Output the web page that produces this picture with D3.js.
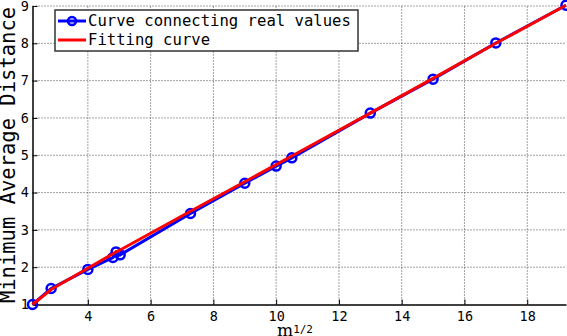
<!DOCTYPE html>
<html>
<head>
<meta charset="utf-8">
<script src="https://cdn.jsdelivr.net/npm/d3@7"></script>
<style>
  body { margin: 0; background: #fff; }
  svg { display: block; font-family: "DejaVu Sans Mono", monospace; }
</style>
</head>
<body>
<div id="chart"></div>
<script>
// data
const xs = [2.236, 2.83, 4.0, 4.8, 4.9, 5.03, 7.27, 9.0, 10.0, 10.5, 13.0, 15.0, 17.0, 19.235];
const realVals = [1.0, 1.43, 1.94, 2.26, 2.41, 2.33, 3.44, 4.25, 4.71, 4.93, 6.13, 7.04, 8.01, 9.02];
const fitVals = [1.0, 1.40, 1.97, 2.36, 2.41, 2.46, 3.50, 4.29, 4.75, 4.98, 6.13, 7.06, 8.00, 9.02];
const xTicks = [4, 6, 8, 10, 12, 14, 16, 18];
const yTicks = [1, 2, 3, 4, 5, 6, 7, 8, 9];
const legendLabels = ["Curve connecting real values", "Fitting curve"];

const width = 567, height = 336,
  margin = {top: 6, right: 1, bottom: 31.5, left: 32.5};

const svg = d3.select("#chart")
  .append("svg")
  .attr("width", width)
  .attr("height", height);

const x = d3.scaleLinear([Math.sqrt(5), Math.sqrt(370)], [margin.left, width - margin.right]);
const y = d3.scaleLinear([1, 9], [height - margin.bottom, margin.top]);

// grid
svg.append("g")
  .selectAll("line")
  .data(xTicks)
  .join("line")
  .attr("x1", d => x(d)).attr("x2", d => x(d))
  .attr("y1", y(1)).attr("y2", y(9))
  .attr("stroke", "#444")
  .attr("stroke-dasharray", "1,2");

svg.append("g")
  .selectAll("line")
  .data(yTicks.slice(1))
  .join("line")
  .attr("x1", x.range()[0]).attr("x2", x.range()[1])
  .attr("y1", d => y(d)).attr("y2", d => y(d))
  .attr("stroke", "#444")
  .attr("stroke-dasharray", "1,2");

// axes (ticks pointing inward like matlab)
const xAxis = svg.append("g")
  .attr("transform", `translate(0,${y(1)})`)
  .call(d3.axisBottom(x).tickValues(xTicks).tickSizeInner(-5).tickSizeOuter(0).tickPadding(7));

const yAxis = svg.append("g")
  .attr("transform", `translate(${x.range()[0]},0)`)
  .call(d3.axisLeft(y).tickValues(yTicks).tickSizeInner(-5).tickSizeOuter(0).tickPadding(3.5));

[xAxis, yAxis].forEach(g => {
  g.select(".domain").attr("stroke", "#000").attr("stroke-width", 1.5);
  g.selectAll(".tick line").attr("stroke", "#000");
  g.selectAll("text")
    .attr("font-family", "DejaVu Sans Mono, monospace")
    .attr("font-size", 13.5)
    .attr("fill", "#000");
});

// lines
const line = d3.line().x((d, i) => x(xs[i])).y(d => y(d));

svg.append("path")
  .datum(realVals)
  .attr("fill", "none")
  .attr("stroke", "#0000ff")
  .attr("stroke-width", 3)
  .attr("d", line);

svg.append("g")
  .selectAll("circle")
  .data(realVals)
  .join("circle")
  .attr("cx", (d, i) => x(xs[i]))
  .attr("cy", d => y(d))
  .attr("r", 4.5)
  .attr("fill", "none")
  .attr("stroke", "#0000ff")
  .attr("stroke-width", 2.5);

svg.append("path")
  .datum(fitVals)
  .attr("fill", "none")
  .attr("stroke", "#ff0000")
  .attr("stroke-width", 3)
  .attr("d", line);

// legend
const lg = svg.append("g").attr("transform", "translate(55,10)");
lg.append("rect")
  .attr("width", 303).attr("height", 41)
  .attr("fill", "#fff")
  .attr("stroke", "#333").attr("stroke-width", 1.5);

lg.append("line")
  .attr("x1", 3).attr("x2", 31).attr("y1", 11).attr("y2", 11)
  .attr("stroke", "#0000ff").attr("stroke-width", 3);
lg.append("circle")
  .attr("cx", 17).attr("cy", 11).attr("r", 4)
  .attr("fill", "none").attr("stroke", "#0000ff").attr("stroke-width", 2.5);
lg.append("line")
  .attr("x1", 3).attr("x2", 31).attr("y1", 30).attr("y2", 30)
  .attr("stroke", "#ff0000").attr("stroke-width", 3);

lg.selectAll(".leg-text")
  .data(legendLabels)
  .join("text")
  .attr("class", "leg-text")
  .attr("x", 33)
  .attr("y", (d, i) => 16 + i * 19)
  .attr("font-size", 15.6)
  .text(d => d);

// axis labels
svg.append("text")
  .attr("transform", `translate(15,155) rotate(-90)`)
  .attr("text-anchor", "middle")
  .attr("font-size", 20.5)
  .text("Minimum Average Distance");

const xl = svg.append("text")
  .attr("x", 277)
  .attr("y", 335.5)
  .attr("font-family", "DejaVu Serif, serif")
  .attr("font-size", 17);
xl.append("tspan").text("m");
xl.append("tspan").attr("font-family", "DejaVu Sans Mono, monospace")
  .attr("font-size", 11).attr("dy", -3).text("1/2");
</script>
</body>
</html>
